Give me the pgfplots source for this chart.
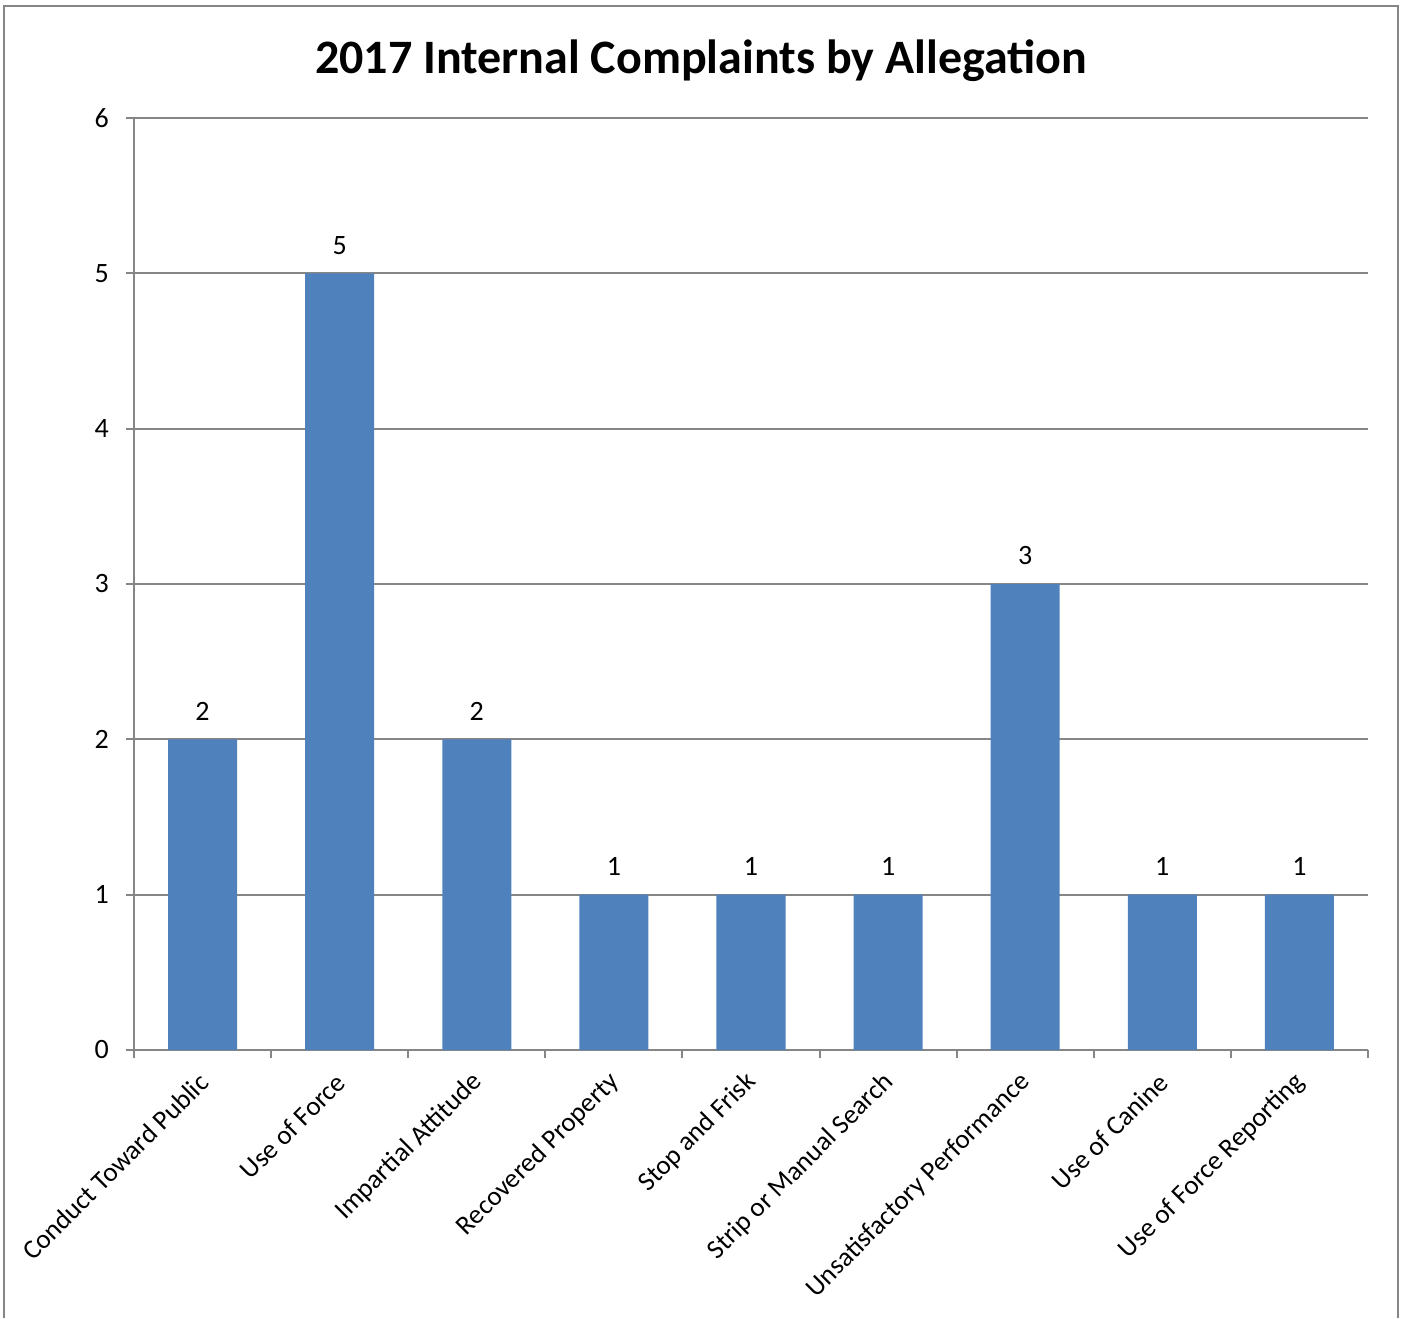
\documentclass[border=0pt]{standalone}
\usepackage{fontspec}
\setmainfont{Carlito}
\usepackage{pgfplots}
\pgfplotsset{compat=1.18}
\definecolor{barblue}{HTML}{4F81BD}
\definecolor{axisgrey}{HTML}{868686}
\begin{document}
\begin{tikzpicture}
\useasboundingbox (0,0) rectangle (701.5pt,659pt);
\draw[axisgrey, line width=1pt] (2pt,0) -- (2pt,656pt) -- (699pt,656pt) -- (699pt,0);
\node[font=\fontsize{24}{28}\selectfont\bfseries] at (350.5pt,628.5pt) {2017 Internal Complaints by Allegation};
\begin{axis}[
  at={(67pt,134pt)}, anchor=south west,
  scale only axis, width=617pt, height=466pt,
  ybar, bar width=34.5pt,
  ymin=0, ymax=6, ytick={0,...,6},
  xmin=-0.5, xmax=8.5,
  xtick={0,...,8},
  xticklabels={Conduct Toward Public, Use of Force, Impartial Attitude, Recovered Property, Stop and Frisk, Strip or Manual Search, Unsatisfactory Performance, Use of Canine, Use of Force Reporting},
  minor xtick={-0.5,0.5,...,8.5},
  axis x line=bottom, axis y line=left,
  axis line style={axisgrey, line width=1pt, -},
  ymajorgrids, grid style={axisgrey, line width=1pt},
  tick align=outside,
  major tick length=4pt, minor tick length=4pt,
  tick style={axisgrey, line width=1pt},
  major x tick style={draw=none},
  /pgf/number format/assume math mode=true,
  ticklabel style={font=\fontsize{14}{16}\selectfont},
  xticklabel style={rotate=45, anchor=east, xshift=-3.2pt, yshift=-7.5pt, font=\fontsize{13.5}{16}\selectfont},
  yticklabel style={xshift=-5pt},
  nodes near coords,
  every node near coord/.append style={font=\fontsize{14}{16}\selectfont, black, yshift=6pt},
]
\addplot[fill=barblue, draw=none] coordinates {(0,2) (1,5) (2,2) (3,1) (4,1) (5,1) (6,3) (7,1) (8,1)};
\end{axis}
\end{tikzpicture}
\end{document}
